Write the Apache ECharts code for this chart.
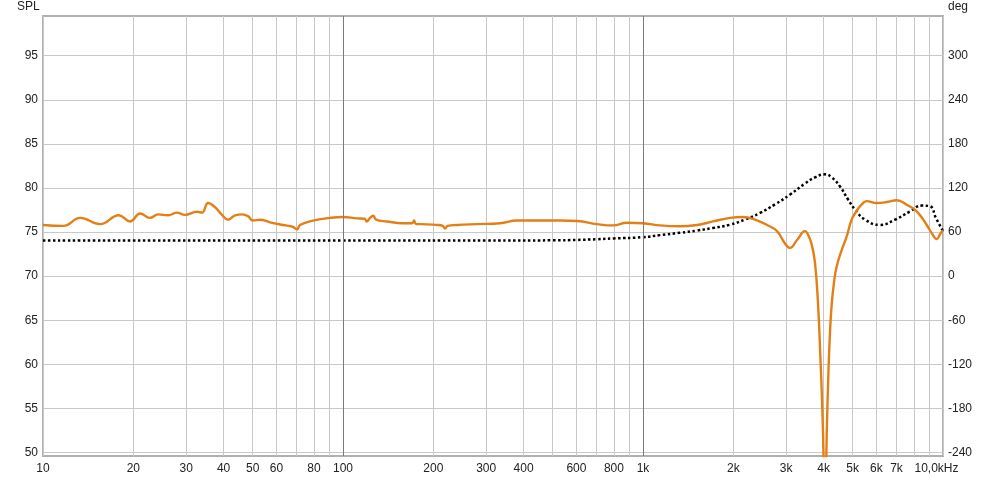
<!DOCTYPE html>
<html><head><meta charset="utf-8">
<script src="https://cdn.jsdelivr.net/npm/echarts@6/dist/echarts.min.js"></script>
<style>html,body{margin:0;padding:0;background:#fff}#c{width:1000px;height:483px}</style>
</head><body><div id="c"></div>
<script>
// SPL curve (Hz, dB)
const splFreq = [10, 11.7, 13.3, 15.5, 17.9, 19.5, 21.1, 22.7, 24.2, 26.1, 28.0, 29.7, 32.6, 33.9, 35.5, 37.5, 39.5, 41.4, 43.7, 46.1, 48.2, 50.1, 52.9, 57.1, 63.1, 68, 70.3, 71.9, 79.4, 90.5, 100, 111, 118, 120, 123, 126, 129, 140, 158, 170, 172.5, 175, 181, 206, 215, 219, 223, 240, 280, 334, 380, 454, 529, 603, 703, 794, 885, 1000, 1140, 1328, 1514, 1711, 1950, 2154, 2326, 2591, 2797, 2974, 3090, 3262, 3467, 3550, 3650, 3744, 3830, 3900, 3960, 4000, 4027, 4060, 4096, 4150, 4200, 4256, 4332, 4422, 4600, 4775, 4960, 5156, 5350, 5568, 6012, 6493, 7011, 7570, 8173, 8826, 9200, 9528, 9800, 10000];
const splValues = [75.8, 75.7, 76.6, 75.9, 76.9, 76.2, 77.1, 76.6, 77.0, 76.9, 77.2, 76.95, 77.3, 77.2, 78.3, 77.8, 76.95, 76.4, 76.9, 77.0, 76.8, 76.3, 76.4, 76.1, 75.8, 75.6, 75.3, 75.8, 76.3, 76.6, 76.7, 76.55, 76.5, 76.2, 76.6, 76.85, 76.4, 76.2, 76.0, 76.0, 76.3, 75.9, 75.9, 75.8, 75.7, 75.4, 75.7, 75.8, 75.9, 76.0, 76.3, 76.3, 76.3, 76.25, 75.9, 75.75, 76.05, 76.0, 75.75, 75.65, 75.8, 76.2, 76.6, 76.7, 76.5, 75.8, 75.1, 73.7, 73.2, 74.1, 75.1, 74.7, 73.6, 71.5, 67, 61, 55, 49, 42, 45, 52, 59, 63.6, 66.8, 69.3, 71.1, 73, 74.5, 76.4, 77.4, 78.1, 78.5, 78.3, 78.4, 78.6, 78.1, 77.35, 75.8, 74.8, 74.2, 74.8, 75.2];
// Phase curve (Hz, degrees)
const phaseFreq = [10, 100, 300, 500, 600, 700, 800, 1000, 1140, 1328, 1514, 1711, 1950, 2188, 2455, 2754, 3090, 3467, 3744, 4044, 4266, 4536, 4824, 5090, 5495, 6166, 6918, 7762, 8511, 9051, 9477, 10000];
const phaseValues = [48.5, 48.5, 48.5, 48.7, 49.2, 50.2, 51.3, 53, 55.8, 59, 62, 65.5, 70, 77, 86, 97.6, 111, 126, 134.5, 138.5, 134, 122, 104.5, 90.6, 77, 69.7, 76.8, 88, 96, 95, 79, 61];
// Axis ticks
const xGridValues = [10,20,30,40,50,60,70,80,90,100,200,300,400,500,600,700,800,900,1000,2000,3000,4000,5000,6000,7000,8000,9000,10000];
const xLabelValues = [10,20,30,40,50,60,80,100,200,300,400,600,800,1000,2000,3000,4000,5000,6000,7000,10000];
const xMajorValues = [100, 1000];
const splTicks = [50,55,60,65,70,75,80,85,90,95];
const degTicks = [-240,-180,-120,-60,0,60,120,180,240,300];

const splMin = 49.6, splMax = 99.5;
const degMin = (splMin - 70) * 12, degMax = (splMax - 70) * 12;

const font = 'Liberation Sans, Arial, sans-serif';
const chart = echarts.init(document.getElementById('c'), null, {renderer: 'canvas'});
chart.setOption({
  animation: false,
  backgroundColor: '#fff',
  grid: {left: 43, right: 57, top: 16, bottom: 27, show: true, borderColor: '#b0b0b0', borderWidth: 2, backgroundColor: '#fff'},
  graphic: [
    {type: 'text', left: 17, top: 1, style: {text: 'SPL', font: '12px ' + font, fill: '#222'}},
    {type: 'text', left: 948, top: 1, style: {text: 'deg', font: '12px ' + font, fill: '#222'}}
  ],
  xAxis: {
    type: 'log', logBase: 10, min: 10, max: 10000,
    axisLine: {show: false},
    axisTick: {show: false, customValues: xGridValues},
    splitLine: {show: true, lineStyle: {color: '#c8c8c8', width: 1}},
    axisLabel: {
      customValues: xLabelValues, margin: 7, color: '#222', fontSize: 12, fontFamily: font,
      formatter: v => v >= 10000 ? '{r|10,0kHz}' : (v >= 1000 ? (v / 1000) + 'k' : String(v)),
      rich: {r: {fontSize: 12, fontFamily: font, color: '#222', padding: [0, 13, 0, 0]}}
    }
  },
  yAxis: [
    {type: 'value', min: splMin, max: splMax, position: 'left',
     axisLine: {show: false}, axisTick: {show: false, customValues: splTicks},
     splitLine: {show: true, lineStyle: {color: '#c8c8c8', width: 1}},
     axisLabel: {customValues: splTicks, margin: 5, color: '#222', fontSize: 12, fontFamily: font}},
    {type: 'value', min: degMin, max: degMax, position: 'right',
     axisLine: {show: false}, axisTick: {show: false, customValues: degTicks},
     splitLine: {show: false},
     axisLabel: {customValues: degTicks, margin: 5, color: '#222', fontSize: 12, fontFamily: font}}
  ],
  series: [
    {type: 'line', data: [], silent: true, z: 1,
     markLine: {silent: true, symbol: 'none', label: {show: false}, animation: false,
       lineStyle: {color: '#7a7a7a', width: 1, type: 'solid'},
       data: xMajorValues.map(v => ({xAxis: v}))}},
    {type: 'line', yAxisIndex: 1, z: 3, showSymbol: false, smooth: 0.5,
     data: phaseFreq.map((f, i) => [f, phaseValues[i]]),
     lineStyle: {color: '#000', width: 2.5, type: [2.5, 2.5]}},
    {type: 'line', yAxisIndex: 0, z: 4, showSymbol: false, smooth: 0.45,
     data: splFreq.map((f, i) => [f, splValues[i]]),
     lineStyle: {color: '#e47f16', width: 2.4}}
  ]
});
</script></body></html>
